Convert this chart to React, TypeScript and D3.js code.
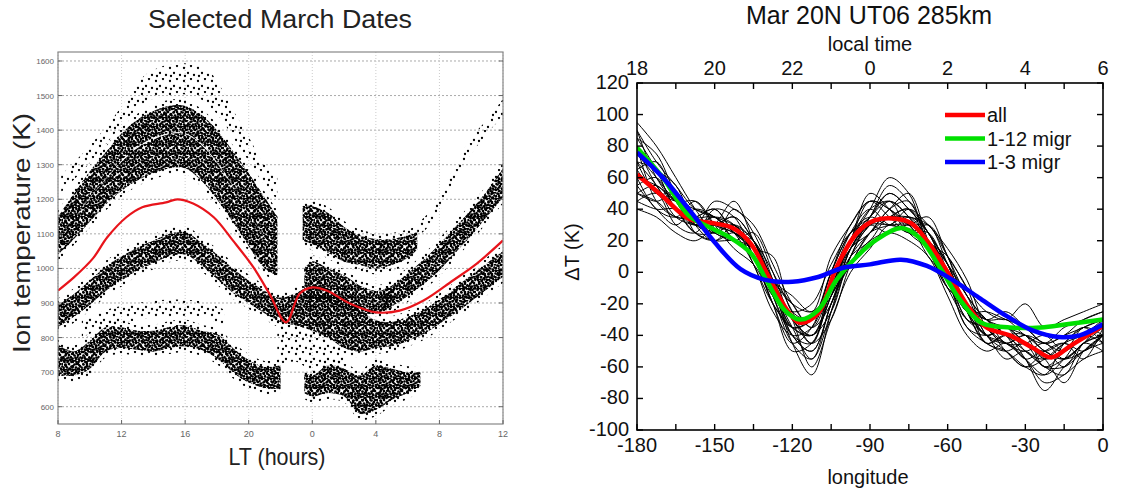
import React from "react";
import * as d3 from "d3";

// ---------- Left panel data (LT hours, continuous 8..36; temperatures K) ----------
const LT_TICKS = [8, 12, 16, 20, 24, 28, 32, 36];
const LT_LABELS = ["8", "12", "16", "20", "0", "4", "8", "12"];
const TI_TICKS = [600, 700, 800, 900, 1000, 1100, 1200, 1300, 1400, 1500, 1600];

// mean curve
const TI_MEAN = [
  [8, 936], [9, 974], [10.2, 1029], [11.1, 1090], [12.3, 1148], [13.3, 1177], [14.8, 1191],
  [15.5, 1200], [16.5, 1188], [17.8, 1148], [19, 1081], [20.3, 1003], [21.3, 927], [22.35, 844],
  [23.2, 927], [24, 945], [24.9, 936], [26.4, 898], [28, 873], [29.5, 878], [31, 907],
  [32.85, 965], [34.35, 1014], [36, 1081],
];

// dense scatter bands: [LT, low K, high K]
const BAND_UPPER = [
  [8, 1095, 1150], [9, 1145, 1215], [10, 1205, 1280], [11, 1260, 1335], [12, 1312, 1390],
  [13, 1352, 1430], [14, 1378, 1455], [15, 1392, 1470], [16, 1392, 1470], [17, 1362, 1445],
  [18, 1308, 1400], [19, 1240, 1340], [20, 1160, 1275], [21, 1090, 1205], [21.8, 1040, 1150],
];
const BAND_SECOND = [
  [8, 1040, 1095], [9, 1085, 1145], [10, 1135, 1203], [11, 1185, 1258], [12, 1225, 1308],
  [13, 1255, 1348], [14, 1275, 1372], [15, 1290, 1388], [16, 1290, 1388], [17, 1255, 1358],
  [18, 1200, 1304], [19, 1135, 1238], [20, 1065, 1160], [21, 1000, 1088], [21.8, 980, 1040],
];
const BAND_MAIN = [
  [8, 830, 895], [9, 860, 925], [10, 895, 965], [11, 935, 1005], [12, 965, 1035], [13, 995, 1060],
  [14, 1015, 1080], [15, 1035, 1100], [16, 1040, 1105], [17, 1010, 1075], [18, 970, 1040],
  [19, 930, 1000], [20, 900, 965], [21, 870, 935], [22, 845, 915], [23, 835, 930], [24, 820, 950],
  [25, 800, 940], [26, 770, 910], [27, 760, 880], [28, 770, 850], [29, 775, 845], [30, 790, 860],
  [31, 810, 880], [32, 840, 910], [33, 870, 945], [34, 905, 980], [35, 940, 1015], [36, 975, 1050],
];
const BAND_NIGHT_MID = [
  [23.5, 880, 1000], [24, 900, 1020], [25, 900, 1000], [26, 885, 980], [27, 870, 950],
  [28, 870, 935], [29, 885, 945],
];
const BAND_RIGHT_UPPER = [
  [28.5, 880, 940], [29, 890, 950], [30, 920, 985], [31, 955, 1025], [32, 995, 1070],
  [33, 1045, 1120], [34, 1095, 1170], [35, 1150, 1225], [36, 1205, 1290],
];
const BAND_NIGHT_UPPER = [
  [23.4, 1080, 1180], [24, 1070, 1180], [25, 1045, 1160], [26, 1020, 1120], [27, 1010, 1095],
  [28, 1000, 1085], [29, 1010, 1085], [30, 1030, 1095], [30.6, 1055, 1105],
];
const BAND_LOW = [
  [8, 690, 780], [9, 690, 760], [10, 710, 790], [11, 760, 830], [12, 770, 830], [13, 765, 820],
  [14, 760, 820], [15, 770, 830], [16, 775, 835], [17, 765, 820], [18, 740, 810], [19, 700, 770],
  [20, 670, 735], [21, 655, 715], [22, 650, 720],
];
const BAND_NIGHT_LOW = [
  [23.5, 640, 700], [24, 630, 690], [25, 640, 720], [26, 630, 710], [27, 580, 690],
  [28, 590, 720], [29, 620, 710], [30, 640, 700], [30.8, 660, 700],
];
// sparse scatter bands
const SPARSE_ARC = [
  [8.2, 1220, 1270], [9.8, 1295, 1345], [11.3, 1375, 1425], [12.5, 1440, 1500], [13.5, 1480, 1560],
  [15, 1500, 1590], [16.5, 1500, 1590], [17.5, 1470, 1570], [18.3, 1430, 1520], [19, 1380, 1460],
  [20, 1310, 1380], [21, 1240, 1300], [21.8, 1200, 1270],
];
const SPARSE_MID = [
  [9.5, 800, 850], [11, 830, 880], [13, 850, 900], [15, 860, 910], [17, 860, 905], [18.5, 830, 880],
];
const SPARSE_RIGHT = [
  [30.6, 1090, 1130], [31.5, 1130, 1170], [32.2, 1180, 1230], [33, 1255, 1300], [34, 1330, 1380],
  [35, 1390, 1430], [36, 1440, 1490],
];
const SPARSE_NIGHT = [
  [21.8, 720, 850], [23, 730, 850], [24, 700, 820], [25, 690, 800], [26, 700, 770],
];

// ---------- Right panel data ----------
const LON_TICKS = [-180, -165, -150, -135, -120, -105, -90, -75, -60, -45, -30, -15, 0];
const LON_LABELS = [-180, -150, -120, -90, -60, -30, 0];
const DT_TICKS = [-100, -80, -60, -40, -20, 0, 20, 40, 60, 80, 100, 120];
const LOCAL_TICKS = [18, 19, 20, 21, 22, 23, 24, 25, 26, 27, 28, 29, 30];
const LOCAL_LABEL_VALUES = [18, 20, 22, 24, 26, 28, 30];
const LOCAL_LABELS = ["18", "20", "22", "0", "2", "4", "6"];

const LON_STEPS = [-180, -172.5, -165, -157.5, -150, -142.5, -135, -127.5, -120, -112.5, -105, -97.5,
  -90, -82.5, -75, -67.5, -60, -52.5, -45, -37.5, -30, -22.5, -15, -7.5, 0];

const MEMBERS = [
  [90, 70, 55, 40, 35, 30, 20, -10, -40, -50, -20, 10, 35, 50, 40, 25, 5, -15, -30, -35, -40, -50, -55, -45, -40],
  [45, 50, 30, 25, 40, 35, 10, -20, -45, -35, 0, 30, 45, 35, 25, 30, 10, -25, -45, -50, -60, -65, -45, -35, -30],
  [75, 60, 45, 35, 25, 20, 25, 0, -30, -40, -15, 15, 25, 40, 45, 15, -10, -20, -30, -25, -35, -45, -40, -30, -25],
  [60, 40, 35, 45, 30, 15, 5, -15, -25, -20, 5, 25, 30, 25, 35, 25, -5, -30, -40, -55, -50, -60, -60, -50, -40],
  [85, 65, 40, 30, 45, 40, 30, 5, -20, -35, -10, 20, 40, 60, 50, 20, 10, -10, -25, -30, -20, -35, -30, -25, -20],
  [50, 45, 50, 25, 20, 25, 15, -10, -35, -55, -20, 5, 20, 25, 20, 10, -15, -40, -50, -45, -55, -70, -65, -55, -50],
  [70, 55, 35, 30, 30, 35, 20, -5, -15, -25, 10, 30, 45, 40, 30, 30, 5, -20, -30, -45, -45, -40, -50, -40, -35],
  [95, 80, 60, 40, 25, 20, 10, -20, -35, -40, -25, 10, 25, 35, 40, 15, -5, -25, -40, -35, -50, -55, -45, -35, -45],
  [40, 35, 25, 20, 30, 45, 20, -5, -30, -60, -30, 0, 15, 30, 25, 25, 0, -30, -35, -40, -45, -60, -55, -45, -30],
  [65, 50, 45, 40, 35, 25, 15, 10, -25, -30, 0, 25, 35, 30, 40, 30, 15, -5, -35, -45, -40, -45, -50, -35, -40],
  [55, 60, 40, 30, 25, 30, 10, -15, -40, -45, -5, 15, 30, 45, 35, 15, -10, -20, -45, -40, -55, -75, -60, -50, -45],
  [80, 45, 35, 35, 40, 25, 20, -5, -20, -25, -10, 20, 50, 40, 25, 20, 0, -25, -25, -30, -35, -45, -40, -35, -30],
  [50, 55, 40, 25, 20, 20, 15, -10, -45, -65, -25, 15, 30, 30, 30, 20, 5, -15, -40, -50, -60, -50, -45, -55, -35],
  [70, 65, 50, 30, 35, 30, 5, -20, -35, -30, -15, 10, 20, 35, 30, 10, -5, -35, -40, -35, -45, -55, -70, -50, -40],
  [85, 75, 50, 35, 30, 25, 15, -15, -30, -45, -10, 20, 40, 45, 35, 20, 0, -20, -35, -45, -50, -45, -55, -45, -35],
  [60, 55, 45, 35, 25, 40, 25, -5, -40, -50, -20, 15, 35, 55, 45, 25, 5, -25, -45, -40, -40, -60, -50, -40, -35],
  [55, 40, 30, 40, 35, 25, 5, -25, -40, -35, -5, 25, 40, 30, 30, 35, 10, -15, -30, -40, -55, -50, -60, -45, -50],
  [75, 65, 55, 30, 20, 30, 20, 0, -25, -45, -30, 5, 25, 40, 50, 20, -5, -35, -45, -50, -45, -55, -50, -40, -30],
  [45, 40, 40, 30, 35, 20, 10, -10, -30, -40, -15, 20, 35, 45, 25, 15, 0, -20, -30, -30, -40, -45, -35, -30, -25],
  [90, 60, 45, 45, 30, 25, 15, -15, -45, -55, -25, 10, 30, 35, 40, 25, 5, -25, -40, -45, -55, -65, -55, -40, -45],
  [65, 70, 45, 30, 30, 35, 20, -10, -35, -40, -10, 20, 45, 40, 30, 15, -10, -30, -35, -50, -60, -55, -45, -40, -35],
  [50, 45, 35, 35, 40, 25, 15, -5, -20, -35, -20, 15, 30, 35, 35, 30, 10, -10, -40, -45, -40, -50, -55, -50, -40],
  [80, 55, 40, 25, 25, 30, 10, -20, -50, -45, -15, 5, 25, 30, 35, 20, -5, -25, -30, -40, -50, -60, -65, -45, -40],
  [70, 50, 50, 35, 35, 20, 15, -5, -35, -30, 0, 25, 35, 50, 40, 25, 0, -20, -40, -35, -45, -50, -45, -50, -40],
];

const ALL_CURVE = [
  [-180, 62], [-170, 48], [-160, 34], [-150, 31], [-143, 28], [-136, 18], [-130, 0], [-122, -24],
  [-117, -32], [-110, -26], [-103, 3], [-95, 25], [-88, 33], [-80, 34], [-74, 31], [-68, 20],
  [-60, 0], [-52, -22], [-45, -35], [-36, -40], [-27, -48], [-20, -54], [-12, -46], [0, -34],
];
const MIGR12_CURVE = [
  [-180, 79], [-170, 60], [-160, 36], [-150, 27], [-144, 22], [-136, 12], [-130, -5], [-123, -24],
  [-117, -30], [-110, -24], [-103, -5], [-95, 10], [-88, 20], [-78, 28], [-71, 22], [-63, 3],
  [-55, -18], [-47, -32], [-36, -35], [-24, -35], [-14, -33], [0, -30],
];
const MIGR3_CURVE = [
  [-180, 76], [-170, 60], [-160, 40], [-150, 19], [-140, 2], [-130, -5], [-120, -6], [-110, -3],
  [-100, 3], [-90, 5], [-78, 8], [-68, 4], [-58, -5], [-48, -16], [-37, -28], [-27, -37],
  [-17, -41], [-9, -40], [0, -33],
];
const LEGEND = [
  { label: "all", color: "#ff0000" },
  { label: "1-12 migr", color: "#00e000" },
  { label: "1-3 migr", color: "#0000ff" },
];

const DOTS_A = [[1, 1], [4.5, 2], [7.5, 0.5], [2.5, 4.5], [6, 4], [8.5, 6.5], [0.5, 7.5], [4, 7.5], [6.8, 8.6], [3, 0]];
const DOTS_B = [[1.5, 2], [5, 0.5], [3, 6], [6.5, 4], [0.5, 9], [5.5, 9.5], [2, 11.5]];
const DOTS_S = [[2, 3], [9, 1], [6, 8], [12, 10], [3, 11]];

export default function App() {
  // left scales
  const xL = d3.scaleLinear().domain([8, 36]).range([58, 503]);
  const yL = d3.scaleLinear().domain([550, 1626]).range([424, 52]);
  const band = d3
    .area<number[]>()
    .x((d) => xL(d[0]))
    .y0((d) => yL(d[1]))
    .y1((d) => yL(d[2]))
    .curve(d3.curveCatmullRom);
  // fuzzy fringe around a dense band (pixel padding, drawing only)
  const halo = d3
    .area<number[]>()
    .x((d) => xL(d[0]))
    .y0((d) => yL(d[1]) + 6)
    .y1((d) => yL(d[2]) - 6)
    .curve(d3.curveCatmullRom);
  const meanLine = d3
    .line<number[]>()
    .x((d) => xL(d[0]))
    .y((d) => yL(d[1]))
    .curve(d3.curveCatmullRom);

  // right scales
  const xR = d3.scaleLinear().domain([-180, 0]).range([637, 1103]);
  const xT = d3.scaleLinear().domain([18, 30]).range([637, 1103]);
  const yR = d3.scaleLinear().domain([-100, 120]).range([430, 83]);
  const rLine = d3
    .line<number[]>()
    .x((d) => xR(d[0]))
    .y((d) => yR(d[1]))
    .curve(d3.curveCatmullRom);

  const denseBands = [BAND_UPPER, BAND_SECOND, BAND_MAIN, BAND_NIGHT_MID, BAND_RIGHT_UPPER,
    BAND_NIGHT_UPPER, BAND_LOW, BAND_NIGHT_LOW];
  const sparseBands = [SPARSE_ARC, SPARSE_MID, SPARSE_RIGHT, SPARSE_NIGHT];

  const font = "'Liberation Sans', Arial, Helvetica, sans-serif";

  return (
    <svg width={1122} height={497} style={{ position: "absolute", left: 0, top: 0, background: "#fff" }}
      fontFamily={font}>
      <defs>
        <pattern id="denseA" width="9" height="9" patternUnits="userSpaceOnUse">
          {DOTS_A.map((p, i) => (
            <circle key={i} cx={p[0]} cy={p[1]} r={1.35} fill="#000" />
          ))}
        </pattern>
        <pattern id="denseB" width="7" height="12" patternUnits="userSpaceOnUse">
          {DOTS_B.map((p, i) => (
            <circle key={i} cx={p[0]} cy={p[1]} r={1.3} fill="#000" />
          ))}
        </pattern>
        <pattern id="sparse" width="14" height="13" patternUnits="userSpaceOnUse">
          {DOTS_S.map((p, i) => (
            <circle key={i} cx={p[0]} cy={p[1]} r={1.15} fill="#000" />
          ))}
        </pattern>
        <clipPath id="clipL">
          <rect x={58} y={52} width={445} height={372} />
        </clipPath>
        <clipPath id="clipR">
          <rect x={637} y={83} width={466} height={347} />
        </clipPath>
      </defs>

      {/* ================= LEFT PANEL ================= */}
      <text x={280} y={28} textAnchor="middle" fontSize={26} textLength={264} lengthAdjust="spacingAndGlyphs" fill="#222">
        Selected March Dates
      </text>
      {TI_TICKS.map((t) => (
        <line key={"gy" + t} x1={58} x2={503} y1={yL(t)} y2={yL(t)} stroke="#aaa" strokeWidth={1} strokeDasharray="2,2" />
      ))}
      {LT_TICKS.map((t) => (
        <line key={"gx" + t} x1={xL(t)} x2={xL(t)} y1={52} y2={424} stroke="#ccc" strokeWidth={1} strokeDasharray="1,2" />
      ))}
      <g clipPath="url(#clipL)">
        {sparseBands.map((b, i) => (
          <path key={"s" + i} d={band(b) || ""} fill="url(#sparse)" />
        ))}
        {denseBands.map((b, i) => (
          <path key={"h" + i} d={halo(b) || ""} fill="url(#sparse)" />
        ))}
        {denseBands.map((b, i) => (
          <g key={"d" + i}>
            <path d={band(b) || ""} fill="url(#denseA)" />
            <path d={band(b) || ""} fill="url(#denseB)" />
          </g>
        ))}
        <path d={meanLine(TI_MEAN) || ""} fill="none" stroke="#e8141b" strokeWidth={2.2} />
      </g>
      <rect x={58} y={52} width={445} height={372} fill="none" stroke="#888" strokeWidth={1.2} />
      {TI_TICKS.map((t) => (
        <g key={"ty" + t}>
          <line x1={58} x2={62} y1={yL(t)} y2={yL(t)} stroke="#666" />
          <line x1={499} x2={503} y1={yL(t)} y2={yL(t)} stroke="#666" />
          <text x={54} y={yL(t) + 3} textAnchor="end" fontSize={8} fill="#666">{t}</text>
        </g>
      ))}
      {LT_TICKS.map((t, i) => (
        <g key={"tx" + t}>
          <line x1={xL(t)} x2={xL(t)} y1={424} y2={420} stroke="#666" />
          <text x={xL(t)} y={437} textAnchor="middle" fontSize={9} fill="#666">{LT_LABELS[i]}</text>
        </g>
      ))}
      <text x={277} y={465} textAnchor="middle" fontSize={24} textLength={97} lengthAdjust="spacingAndGlyphs" fill="#222">
        LT (hours)
      </text>
      <text transform="translate(30,233) rotate(-90)" textAnchor="middle" fontSize={24} textLength={240}
        lengthAdjust="spacingAndGlyphs" fill="#222">
        Ion temperature (K)
      </text>

      {/* ================= RIGHT PANEL ================= */}
      <text x={869} y={24} textAnchor="middle" fontSize={25} fill="#111">Mar 20N UT06 285km</text>
      <text x={870} y={51} textAnchor="middle" fontSize={20} fill="#111">local time</text>
      {LOCAL_LABEL_VALUES.map((v, i) => (
        <text key={"lt" + v} x={xT(v)} y={75} textAnchor="middle" fontSize={20} fill="#111">{LOCAL_LABELS[i]}</text>
      ))}
      <g clipPath="url(#clipR)">
        {MEMBERS.map((m, i) => (
          <path key={"m" + i} d={rLine(m.map((v, j) => [LON_STEPS[j], v])) || ""} fill="none" stroke="#000" strokeWidth={1} />
        ))}
        <path d={rLine(ALL_CURVE) || ""} fill="none" stroke="#ff0000" strokeWidth={4.5} />
        <path d={rLine(MIGR12_CURVE) || ""} fill="none" stroke="#00e000" strokeWidth={4.5} />
        <path d={rLine(MIGR3_CURVE) || ""} fill="none" stroke="#0000ff" strokeWidth={4.5} />
      </g>
      <rect x={637} y={83} width={466} height={347} fill="none" stroke="#000" strokeWidth={1.6} />
      {DT_TICKS.map((t) => (
        <g key={"rt" + t}>
          <line x1={637} x2={643} y1={yR(t)} y2={yR(t)} stroke="#000" strokeWidth={1.4} />
          <line x1={1097} x2={1103} y1={yR(t)} y2={yR(t)} stroke="#000" strokeWidth={1.4} />
          <text x={629} y={yR(t) + 6} textAnchor="end" fontSize={20} fill="#111">{t}</text>
        </g>
      ))}
      {LON_TICKS.map((t) => (
        <line key={"lx" + t} x1={xR(t)} x2={xR(t)} y1={430} y2={424} stroke="#000" strokeWidth={1.4} />
      ))}
      {LOCAL_TICKS.map((t) => (
        <line key={"lo" + t} x1={xT(t)} x2={xT(t)} y1={83} y2={89} stroke="#000" strokeWidth={1.4} />
      ))}
      {LON_LABELS.map((t) => (
        <text key={"ll" + t} x={xR(t)} y={452} textAnchor="middle" fontSize={20} fill="#111">{t}</text>
      ))}
      <text x={868} y={484} textAnchor="middle" fontSize={20} fill="#111">longitude</text>
      <text transform="translate(579,252) rotate(-90)" textAnchor="middle" fontSize={20} fill="#111">ΔT (K)</text>
      {LEGEND.map((l, i) => (
        <g key={l.label}>
          <line x1={945} x2={985} y1={115 + i * 23.5} y2={115 + i * 23.5} stroke={l.color} strokeWidth={4.5} />
          <text x={987} y={115 + i * 23.5 + 7} fontSize={20} fill="#111">{l.label}</text>
        </g>
      ))}
    </svg>
  );
}
